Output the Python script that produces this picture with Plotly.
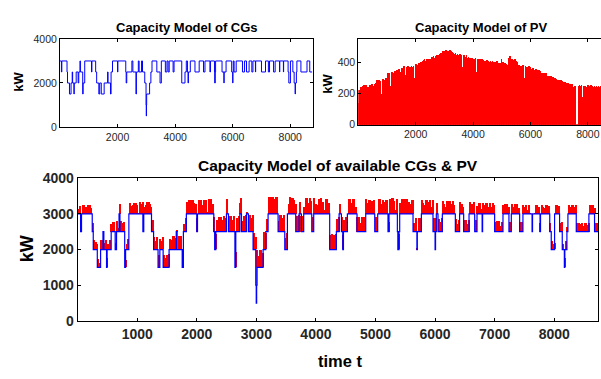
import numpy as np
import plotly.graph_objects as go

# ---- CG capacity: step changes (start hour, level kW) ----
cg_start = [0, 50, 65, 245, 262, 330, 385, 425, 440, 485, 495, 563, 630, 653, 695, 710, 790, 805,
            860, 1095, 1110, 1240, 1275, 1350, 1380, 1435, 1535, 1655, 1670, 1755, 1775, 1825,
            2000, 2012, 2286, 2300, 2320, 2498, 2532, 2640, 2655, 2722, 2750, 2834, 2867, 2945,
            2990, 2998, 3005, 3012, 3113, 3158, 3197, 3365, 3477, 3521, 3661, 3717, 3756, 3795,
            3930, 3963, 4231, 4343, 4389, 4428, 4450, 4462, 4528, 4690, 4836, 4987, 5037, 5210,
            5227, 5367, 5375, 5395, 5406, 5630, 5695, 5702, 5770, 5965, 6000, 6008, 6021, 6049,
            6122, 6340, 6412, 6480, 6570, 6665, 6704, 6790, 6798, 7000, 7140, 7240, 7280, 7420,
            7475, 7628, 7636, 7762, 7770, 7925, 7950, 8006, 8090, 8135, 8170, 8178, 8213, 8230,
            8370, 8582, 8677]
cg_level = [3000, 2500, 3000, 2500, 2000, 1500, 2000, 2500, 2000, 1500, 2000, 2500, 2000, 2500, 3000, 2500, 1500, 2000,
            3000, 2500, 3000, 2500, 2000, 1500, 2000, 1500, 2000, 2500, 2000, 1500, 2500, 3000,
            2500, 3000, 2500, 2000, 2500, 3000, 2500, 1500, 2500, 3000, 2500, 3000, 2500, 2000,
            1000, 500, 1000, 1500, 2000, 2500, 3000, 2500, 2000, 3000, 2500, 3000, 2500, 3000,
            2500, 3000, 2000, 2500, 3000, 2500, 2000, 2500, 3000, 2500, 3000, 2500, 3000, 2500,
            3000, 2500, 2000, 2500, 3000, 2500, 2000, 2500, 3000, 2500, 2000, 2500, 3000, 2500,
            3000, 2500, 3000, 2500, 3000, 2500, 3000, 2500, 3000, 2500, 3000, 2500, 3000, 2500,
            3000, 2500, 3000, 2500, 3000, 2500, 2000, 3000, 2500, 2000, 1500, 2000, 2500, 3000,
            2500, 3000, 2500]
END_HOUR = 8760

# ---- PV daily peak output (kW), one value per day ----
pv_peak = [
    140, 225, 90, 235, 240, 180, 10, 250, 255, 160,
    245, 258, 200, 160, 240, 120, 250, 255, 190, 255,
    260, 150, 250, 210, 260, 270, 180, 285, 100, 280,
    285, 230, 280, 200, 150, 290, 295, 220, 250, 290,
    300, 240, 10, 330, 260, 335, 200, 250, 325, 340,
    280, 200, 330, 345, 230, 335, 350, 290, 240, 360,
    350, 260, 340, 365, 300, 250, 375, 380, 320, 20,
    370, 290, 380, 365, 200, 370, 330, 380, 250, 370,
    375, 300, 280, 385, 390, 320, 385, 250, 395, 380,
    20, 400, 340, 410, 260, 415, 420, 330, 410, 300,
    420, 330, 425, 370, 420, 250, 425, 435, 310, 440,
    430, 370, 440, 290, 445, 300, 440, 450, 20, 455,
    460, 380, 465, 470, 350, 470, 300, 480, 470, 400,
    475, 470, 360, 480, 330, 470, 465, 400, 460, 455,
    300, 460, 450, 380, 455, 330, 450, 260, 455, 450,
    445, 370, 280, 445, 450, 320, 435, 445, 200, 430,
    435, 300, 430, 360, 420, 430, 280, 240, 420, 425,
    430, 340, 100, 425, 420, 300, 410, 420, 150, 415,
    420, 350, 415, 280, 410, 405, 320, 415, 330, 410,
    405, 300, 410, 400, 200, 410, 405, 250, 400, 340,
    400, 410, 290, 390, 395, 360, 300, 395, 420, 330,
    405, 400, 260, 395, 330, 390, 385, 280, 400, 430,
    440, 360, 100, 425, 420, 300, 415, 60, 420, 410,
    400, 330, 280, 385, 380, 250, 380, 20, 375, 385,
    380, 300, 240, 375, 370, 320, 370, 180, 375, 370,
    365, 300, 360, 280, 365, 350, 260, 200, 355, 350,
    345, 280, 350, 250, 345, 200, 335, 330, 260, 180,
    330, 325, 220, 330, 315, 280, 250, 315, 310, 205,
    310, 300, 120, 305, 250, 295, 300, 200, 295, 200,
    290, 230, 280, 290, 285, 150, 280, 240, 275, 270,
    275, 200, 270, 265, 180, 270, 230, 260, 150, 255,
    260, 250, 190, 240, 100, 250, 5, 0, 0, 5,
    250, 255, 200, 250, 255, 180, 160, 245, 250, 210,
    250, 245, 160, 180, 255, 250, 210, 250, 255, 150,
    250, 245, 120, 250, 200, 245, 250, 180, 245, 250,
    245, 200, 250, 150, 245, 250, 190, 245, 250, 235,
    240, 170, 230, 240, 200,
]

cg_x = np.array(cg_start + [END_HOUR])
cg_y = np.array(cg_level + [cg_level[-1]])
day_center = np.arange(len(pv_peak)) * 24 + 12
pv = np.array(pv_peak)
cg_at_day = np.array(cg_level)[np.searchsorted(np.array(cg_start), day_center, side="right") - 1]

BLUE = "#0000FF"
RED = "#FF0000"
FONT = "Liberation Sans, Arial, sans-serif"
TICKC = "#262626"

fig = go.Figure()
fig.add_trace(go.Scatter(x=cg_x, y=cg_y, mode="lines", line=dict(color=BLUE, width=1, shape="hv"),
                         xaxis="x", yaxis="y", showlegend=False))
fig.add_trace(go.Bar(x=day_center, y=pv, width=24, marker=dict(color=RED, line=dict(width=0)),
                     xaxis="x2", yaxis="y2", showlegend=False))
fig.add_trace(go.Bar(x=day_center, y=pv, base=cg_at_day, width=24,
                     marker=dict(color=RED, line=dict(width=0)),
                     xaxis="x3", yaxis="y3", showlegend=False))
fig.add_trace(go.Scatter(x=cg_x, y=cg_y, mode="lines", line=dict(color=BLUE, width=1.2, shape="hv"),
                         xaxis="x3", yaxis="y3", showlegend=False))

W, H = 601, 379


def px(xp):
    return xp / W


def py(yp):
    return 1 - yp / H


small = dict(family=FONT, size=10.5, color=TICKC)
big = dict(family=FONT, size=14, color=TICKC, weight="bold")
common = dict(showline=True, linecolor="black", linewidth=1, ticks="inside", ticklen=3,
              tickcolor="black", showgrid=False, zeroline=False)

fig.update_layout(
    width=W, height=H, margin=dict(l=0, r=0, t=0, b=0),
    paper_bgcolor="white", plot_bgcolor="white",
    barmode="overlay", bargap=0,
    xaxis=dict(domain=[px(60), px(313)], anchor="y", range=[1, 8790], tickvals=[2000, 4000, 6000, 8000],
               tickfont=small, mirror="ticks", **common),
    yaxis=dict(domain=[py(124.3), py(32.3)], anchor="x", range=[0, 4000], tickvals=[0, 2000, 4000],
               tickfont=small, mirror="ticks", **common),
    xaxis2=dict(domain=[px(358.3), 1.0], anchor="y2", range=[0, 8460], tickvals=[2000, 4000, 6000, 8000],
                tickfont=small, mirror="ticks", **common),
    yaxis2=dict(domain=[py(121.9), py(32.3)], anchor="x2", range=[0, 550], tickvals=[0, 200, 400],
                tickfont=small, mirror=False, **common),
    xaxis3=dict(domain=[px(77.7), px(598.3)], anchor="y3", range=[1, 8740],
                tickvals=[1000, 2000, 3000, 4000, 5000, 6000, 7000, 8000],
                tickfont=big, mirror="ticks", **common),
    yaxis3=dict(domain=[py(326.7), py(177.7)], anchor="x3", range=[0, 4000],
                tickvals=[0, 1000, 2000, 3000, 4000], tickfont=big, mirror="ticks", **common),
)

ann = [
    ("Capacity Model of CGs", 186.5, 20, 13, 0),
    ("Capacity Model of PV", 481, 20, 13, 0),
    ("Capacity Model of available CGs & PV", 338, 164, 15.5, 0),
    ("time t", 340, 369, 16.5, 0),
    ("kW", 19, 77, 13, -90),
    ("kW", 328, 79, 13, -90),
    ("kW", 27, 252, 18, -90),
]
for text, x, y, size, ang in ann:
    fig.add_annotation(text="<b>%s</b>" % text, x=px(x), y=py(y), xref="paper", yref="paper",
                       showarrow=False, textangle=ang, xanchor="center", yanchor="middle",
                       font=dict(family=FONT, size=size, color="black"))

fig.write_html("out.html", config={"displayModeBar": False},
               post_script="document.body.style.margin='0px';")
